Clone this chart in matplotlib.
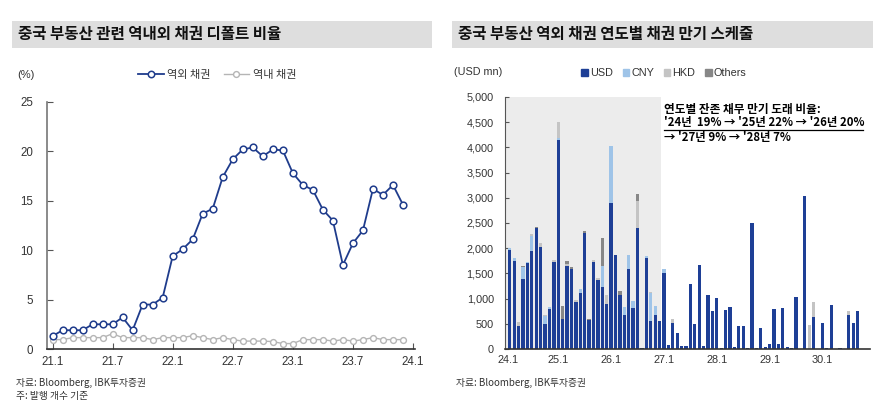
import matplotlib
matplotlib.use("Agg")
import matplotlib.pyplot as plt
from matplotlib.patches import Rectangle, Patch
from matplotlib.lines import Line2D
import numpy as np

plt.rcParams['font.family'] = ['Liberation Sans', 'Noto Sans CJK KR', 'DejaVu Sans']
KR = ['Noto Sans CJK KR', 'DejaVu Sans']

# ---------------- data: left chart (monthly 21.1 - 23.12) ----------------
left_xticklabels = ['21.1', '21.7', '22.1', '22.7', '23.1', '23.7', '24.1']
offshore = [1.3, 1.9, 1.9, 1.9, 2.5, 2.5, 2.5, 3.2, 1.9, 4.5, 4.5, 5.2,
            9.4, 10.1, 11.1, 13.7, 14.2, 17.4, 19.2, 20.2, 20.4, 19.5, 20.2, 20.1,
            17.8, 16.6, 16.1, 14.1, 13.0, 8.5, 10.7, 12.0, 16.2, 15.6, 16.6, 14.6]
onshore = [0.95, 0.95, 1.15, 1.15, 1.15, 1.15, 1.55, 1.15, 1.15, 1.15, 0.95, 1.15,
           1.15, 1.15, 1.35, 1.15, 0.95, 1.15, 0.95, 0.8, 0.8, 0.8, 0.75, 0.55,
           0.55, 0.95, 0.95, 0.95, 0.8, 0.95, 0.8, 0.95, 1.15, 0.95, 0.95, 0.95]

# ---------------- data: right chart (monthly maturities, USD mn) ----------------
right_xticklabels = ['24.1', '25.1', '26.1', '27.1', '28.1', '29.1', '30.1']
usd = [1970, 1750, 450, 1380, 1700, 1950, 2400, 2030, 490, 800, 1720, 4150,
       600, 1650, 1580, 940, 1120, 2300, 580, 1730, 1360, 1230, 890, 2890,
       1860, 1080, 670, 1580, 820, 2410, 25, 1800, 550, 670, 560, 1500,
       80, 520, 317, 66, 66, 1290, 490, 1667, 50, 1065, 760, 1005,
       26, 780, 826, 40, 456, 456, 20, 2506, 20, 410, 40, 93,
       800, 100, 820, 30, 10, 1040, 0, 3045, 0, 628, 0, 522,
       20, 873, 0, 10, 0, 675, 510, 747]
cny = [30, 50, 0, 250, 30, 300, 0, 0, 170, 40, 0, 30,
       0, 0, 0, 0, 70, 0, 0, 0, 0, 420, 0, 1140,
       0, 0, 170, 290, 130, 0, 0, 40, 560, 190, 0, 90,
       0] + [0] * 43
hkd = [0, 0, 80, 0, 0, 40, 0, 70, 10, 0, 50, 320,
       0, 40, 0, 30, 0, 0, 0, 30, 40, 0, 180, 0,
       0, 0, 0, 0, 0, 520, 0, 0, 20, 0, 0, 0,
       0, 70, 0, 0, 0, 0, 0, 0, 0, 0, 0, 0,
       0, 0, 0, 0, 0, 0, 0, 0, 0, 0, 0, 0,
       0, 0, 0, 0, 0, 0, 0, 0, 480, 304, 0, 0,
       0, 0, 0, 0, 0, 80, 0, 0]
others = [0, 0, 0, 20, 0, 0, 30, 0, 0, 0, 0, 0,
          260, 50, 40, 0, 0, 50, 10, 0, 0, 545, 0, 0,
          0, 70, 0, 0, 0, 140, 0, 0, 0, 0, 0, 0] + [0] * 44

W, H = 885, 403
fig = plt.figure(figsize=(W / 100, H / 100), dpi=100)

def fx(px):
    return px / W

def fy(py):
    return 1 - py / H

# title boxes
for x0, x1, txt in [(12, 432, '중국 부동산 관련 역내외 채권 디폴트 비율'),
                    (452, 873, '중국 부동산 역외 채권 연도별 채권 만기 스케줄')]:
    fig.patches.append(Rectangle((fx(x0), fy(48)), fx(x1 - x0), (48 - 21) / H,
                                 transform=fig.transFigure, facecolor='#dedede',
                                 edgecolor='none', zorder=0))
    fig.text(fx(x0 + 6), fy(34.5), txt, family=KR, fontsize=11.2, fontweight='bold',
             va='center', ha='left', color='#111111')

axis_col = '#555555'
txt_col = '#333333'

# ---------------- left chart ----------------
axL = fig.add_axes([fx(47), fy(349), fx(415 - 47), (349 - 102) / H])
xL = np.arange(len(offshore))
axL.plot(xL, onshore, color='#b5b5b5', lw=1.0, marker='o', ms=4.2,
         mfc='white', mec='#b5b5b5', mew=1.0, zorder=2)
axL.plot(xL, offshore, color='#1f3c8c', lw=1.3, marker='o', ms=4.8,
         mfc='white', mec='#1f3c8c', mew=1.1, zorder=3)
axL.set_xlim(-0.55, 36.2)
axL.set_ylim(0, 25)
axL.set_yticks([0, 5, 10, 15, 20, 25])
axL.set_xticks(np.arange(0, 37, 6))
axL.set_xticklabels(left_xticklabels)
for s in ['top', 'right']:
    axL.spines[s].set_visible(False)
axL.spines['left'].set_color('#777777')
axL.spines['bottom'].set_color('#333333')
axL.spines['left'].set_linewidth(1.2)
axL.spines['bottom'].set_linewidth(1.2)
axL.tick_params(axis='both', direction='in', length=4, labelsize=8.3,
                labelcolor=txt_col, color='#555555')
axL.tick_params(axis='y', pad=10)
axL.tick_params(axis='x', pad=5)
fig.text(fx(17), fy(75), '(%)', fontsize=8, color=txt_col, va='center', ha='left')

hL = [Line2D([], [], color='#1f3c8c', lw=1.3, marker='o', ms=4.6, mfc='white',
             mec='#1f3c8c', mew=1.1),
      Line2D([], [], color='#b5b5b5', lw=1.0, marker='o', ms=4.2, mfc='white',
             mec='#b5b5b5', mew=1.0)]
fig.legend(hL, ['역외 채권', '역내 채권'], loc='center', ncol=2,
           bbox_to_anchor=(fx(217), fy(75)), frameon=False,
           prop={'family': KR, 'size': 8}, handlelength=2.3, columnspacing=1.2,
           handletextpad=0.3, labelcolor=txt_col)

# ---------------- right chart ----------------
axR = fig.add_axes([fx(505), fy(349), fx(870 - 505), (349 - 97) / H])
xR = np.arange(len(usd))
usd_a = np.array(usd, float)
cny_a = np.array(cny, float)
hkd_a = np.array(hkd, float)
oth_a = np.array(others, float)
bw = 0.74
c_usd, c_cny, c_hkd, c_oth = '#1e3f96', '#9fc4e8', '#c4c4c4', '#878787'
axR.axvspan(-1.1, 34.3, color='#ececec', zorder=0, lw=0)
axR.bar(xR, usd_a, bw, color=c_usd, zorder=2)
axR.bar(xR, cny_a, bw, bottom=usd_a, color=c_cny, zorder=2)
axR.bar(xR, hkd_a, bw, bottom=usd_a + cny_a, color=c_hkd, zorder=2)
axR.bar(xR, oth_a, bw, bottom=usd_a + cny_a + hkd_a, color=c_oth, zorder=2)
axR.set_xlim(-1.1, 81.8)
axR.set_ylim(0, 5000)
axR.set_yticks(np.arange(0, 5001, 500))
axR.set_yticklabels([f'{v:,}' for v in range(0, 5001, 500)])
axR.set_xticks([-0.4, 11, 23.1, 35, 47, 59, 71])
axR.set_xticklabels(right_xticklabels)
for s in ['top', 'right']:
    axR.spines[s].set_visible(False)
axR.spines['left'].set_color('#555555')
axR.spines['bottom'].set_color('#333333')
axR.spines['bottom'].set_linewidth(1.2)
axR.tick_params(axis='y', direction='in', length=3, labelsize=7.8,
                labelcolor=txt_col, color='#555555', pad=8)
axR.tick_params(axis='x', length=0, labelsize=7.8, labelcolor=txt_col, pad=4)
fig.text(fx(454), fy(72), '(USD mn)', fontsize=7.8, color=txt_col, va='center', ha='left')

hR = [Patch(color=c) for c in (c_usd, c_cny, c_hkd, c_oth)]
fig.legend(hR, ['USD', 'CNY', 'HKD', 'Others'], loc='center', ncol=4,
           bbox_to_anchor=(fx(664), fy(73)), frameon=False,
           prop={'size': 7.8}, handlelength=0.6, handleheight=0.6,
           columnspacing=0.9, handletextpad=0.2, labelcolor=txt_col)

ann_x = fx(664)
fig.text(ann_x, fy(109), '연도별 잔존 채무 만기 도래 비율:', family=KR, fontsize=8.4,
         fontweight='bold', va='center', ha='left', color='#000000')
fig.text(ann_x, fy(122.5), "'24년  19% → '25년 22% → '26년 20%", family=KR,
         fontsize=8.2, fontweight='bold', va='center', ha='left', color='#000000')
fig.text(ann_x, fy(138), "→ '27년 9% → '28년 7%", family=KR, fontsize=8.2,
         fontweight='bold', va='center', ha='left', color='#000000')
fig.lines.append(Line2D([ann_x, fx(863)], [fy(129.5), fy(129.5)], transform=fig.transFigure,
                        color='#000000', lw=0.9))

# footnotes
fig.text(fx(16), fy(383), '자료: Bloomberg, IBK투자증권', family=KR, fontsize=7,
         color=txt_col, va='center', ha='left')
fig.text(fx(16), fy(396), '주: 발행 개수 기준', family=KR, fontsize=7,
         color=txt_col, va='center', ha='left')
fig.text(fx(456), fy(383), '자료: Bloomberg, IBK투자증권', family=KR, fontsize=7,
         color=txt_col, va='center', ha='left')

fig.savefig('out.png', dpi=100, facecolor='white')
